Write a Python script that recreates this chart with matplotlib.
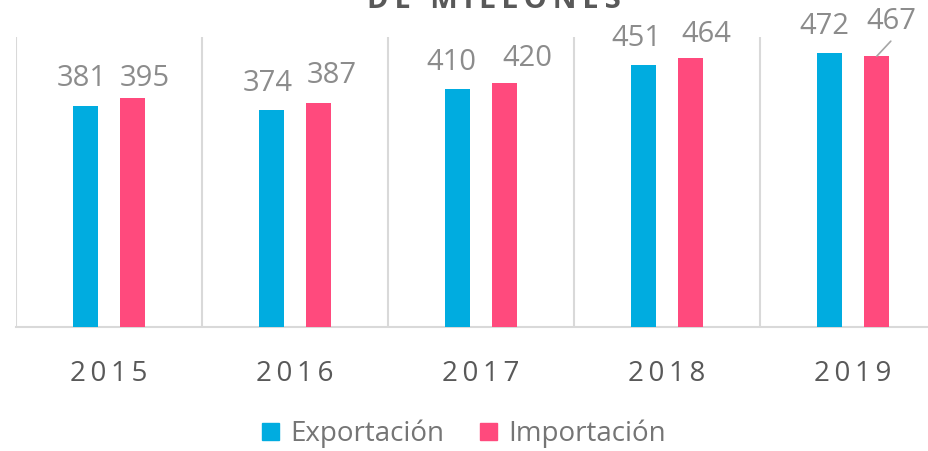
import numpy as np
import matplotlib
matplotlib.use("Agg")
import matplotlib.pyplot as plt
from matplotlib.patches import Patch

plt.rcParams['font.family'] = ['Open Sans', 'DejaVu Sans']

# data
years = ['2015', '2016', '2017', '2018', '2019']
exportacion = [381, 374, 410, 451, 472]
importacion = [395, 387, 420, 464, 467]

# label offsets (pixels) from bar top, as placed in the original chart
exp_off = [(-4, 28), (-4, 27), (-6, 27), (-7, 27), (-5, 27)]
imp_off = [(12, 19), (13, 27), (23, 25), (16, 23), (15, 35)]

BLUE = '#00ace0'
PINK = '#ff4a7d'
GRID = '#d9d9d9'

fig = plt.figure(figsize=(9.29, 4.51), dpi=100)
W, H = 929, 451
ax = fig.add_axes([16 / W, (H - 327) / H, 930 / W, (327 - 37) / H])

x = np.arange(len(years))
bw = 0.136
gap = 0.128
ax.bar(x - gap, exportacion, bw, color=BLUE, zorder=3)
ax.bar(x + gap, importacion, bw, color=PINK, zorder=3)

ax.set_xlim(-0.5, len(years) - 0.5)
ax.set_ylim(0, 500)

for s in ['top', 'right', 'left']:
    ax.spines[s].set_visible(False)
ax.spines['bottom'].set_color(GRID)
ax.spines['bottom'].set_linewidth(1.5)
ax.set_yticks([])

ax.set_xticks(x)
ax.set_xticklabels(['\u2009'.join(y) for y in years], fontsize=20, color='#595959')
ax.set_xticks(np.arange(len(years) + 1) - 0.5, minor=True)
ax.tick_params(axis='x', which='both', length=0, pad=24)
ax.grid(axis='x', which='minor', color=GRID, linewidth=1.5, zorder=0)

lab_col = '#8c8c8c'
for i in range(len(years)):
    ax.annotate(str(exportacion[i]), xy=(x[i] - gap, exportacion[i]),
                xytext=exp_off[i], textcoords='offset pixels',
                ha='center', va='center', fontsize=21, color=lab_col)
    ax.annotate(str(importacion[i]), xy=(x[i] + gap, importacion[i]),
                xytext=imp_off[i], textcoords='offset pixels',
                ha='center', va='center', fontsize=21, color=lab_col)

# leader line for the moved 2019 label
ax.annotate('', xy=(x[4] + gap, importacion[4]), xytext=(14, 15),
            textcoords='offset pixels',
            arrowprops=dict(arrowstyle='-', color='#a6a6a6', lw=1.2,
                            shrinkA=0, shrinkB=0))

# title (only the last line is visible in the crop)
fig.text(494 / W, 1 - 8 / H, '\u2009'.join('DE MILLONES'), ha='center', va='baseline',
         fontsize=21, fontweight='bold', color='#595959')

handles = [Patch(color=BLUE), Patch(color=PINK)]
fig.legend(handles, ['Exportación', 'Importación'], loc='center',
           bbox_to_anchor=(464 / W, 1 - 434 / H), ncol=2, frameon=False,
           fontsize=20, labelcolor='#757575', handlelength=0.6, handleheight=0.6,
           handletextpad=0.4, columnspacing=1.3)

fig.savefig('out.png', dpi=100)
